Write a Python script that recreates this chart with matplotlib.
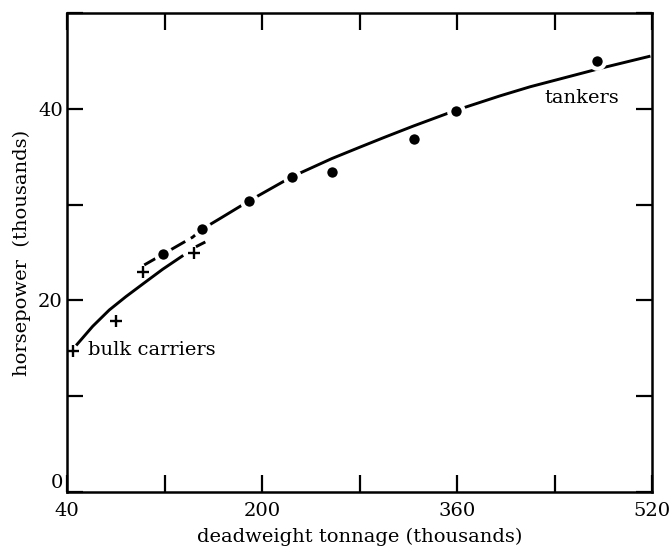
import matplotlib
matplotlib.use("Agg")
import matplotlib.pyplot as plt

# ---- data ----
tanker_dwt = [119.0, 150.5, 189.6, 224.4, 257.2, 324.7, 359.2, 475.0]
tanker_hp = [24.8, 27.5, 30.4, 32.9, 33.4, 36.8, 39.8, 45.0]

bulk_dwt = [44.9, 80.5, 102.6, 144.2]
bulk_hp = [14.7, 17.8, 22.95, 24.9]

# fitted curves
tanker_fit_dwt = [103.4, 114.4, 119.0, 126.7, 143.1, 150.5, 165.6, 189.6, 224.4,
                  257.2, 280.4, 300.0, 324.2, 359.2, 395.3, 420.0, 450.0, 480.0, 518.7]
tanker_fit_hp = [23.7, 24.5, 24.85, 25.4, 26.6, 27.4, 28.55, 30.4, 32.9,
                 34.8, 36.0, 37.0, 38.2, 39.85, 41.35, 42.3, 43.3, 44.3, 45.5]
bulk_fit_dwt = [47.5, 61.1, 74.7, 88.4, 102.6, 118.5, 135.4, 145.8, 153.5]
bulk_fit_hp = [15.3, 17.3, 19.0, 20.4, 21.75, 23.25, 24.7, 25.6, 26.1]

x_ticks = [40, 120, 200, 280, 360, 440, 520]
x_labels = ["40", "", "200", "", "360", "", "520"]
y_ticks = [0, 10, 20, 30, 40, 50]
y_labels = ["0", "", "20", "", "40", ""]

plt.rcParams['font.family'] = ['DejaVu Serif']

fig = plt.figure(figsize=(6.71, 5.51), dpi=100)
ax = fig.add_axes([67 / 671, 1 - 492 / 551, (652 - 67) / 671, (492 - 13) / 551])

# tanker curve: dashed at the low end, solid afterwards
k = 5
ax.plot(tanker_fit_dwt[:k + 1], tanker_fit_hp[:k + 1], color="black", lw=2.1,
        dashes=(7, 2.2), zorder=2)
ax.plot(tanker_fit_dwt[k:], tanker_fit_hp[k:], color="black", lw=2.1, zorder=2,
        solid_capstyle="butt", solid_joinstyle="round")
# bulk carrier curve: solid then a short dash
m = 6
ax.plot(bulk_fit_dwt[:m + 1], bulk_fit_hp[:m + 1], color="black", lw=2.1, zorder=2,
        solid_capstyle="butt", solid_joinstyle="round")
ax.plot(bulk_fit_dwt[m + 1:], bulk_fit_hp[m + 1:], color="black", lw=2.1, zorder=2,
        solid_capstyle="butt")

ax.plot(tanker_dwt, tanker_hp, linestyle="none", marker="o", ms=10.5,
        markerfacecolor="black", markeredgecolor="white", markeredgewidth=3.0, zorder=3)
ax.plot(bulk_dwt, bulk_hp, linestyle="none", marker="+", ms=9,
        color="black", markeredgewidth=1.7, zorder=3)

ax.text(57.5, 14.8, "bulk carriers", fontsize=14, va="center", ha="left")
ax.text(432, 41.1, "tankers", fontsize=14, va="center", ha="left")

ax.set_xlim(40, 520)
ax.set_ylim(0, 50)
ax.set_xticks(x_ticks)
ax.set_xticklabels(x_labels)
ax.set_yticks(y_ticks)
ax.set_yticklabels(y_labels)
ax.tick_params(axis="x", direction="in", length=12, width=1.6, top=True,
               labelsize=14, pad=7)
ax.tick_params(axis="y", direction="in", length=11.5, width=1.6, right=True,
               labelsize=14, pad=3)
ax.get_yticklabels()[0].set_va("bottom")
for s in ax.spines.values():
    s.set_linewidth(1.8)

ax.set_xlabel("deadweight tonnage (thousands)", fontsize=14, labelpad=6)
ax.set_ylabel("horsepower  (thousands)", fontsize=14, labelpad=5)

fig.savefig("out.png", dpi=100)
